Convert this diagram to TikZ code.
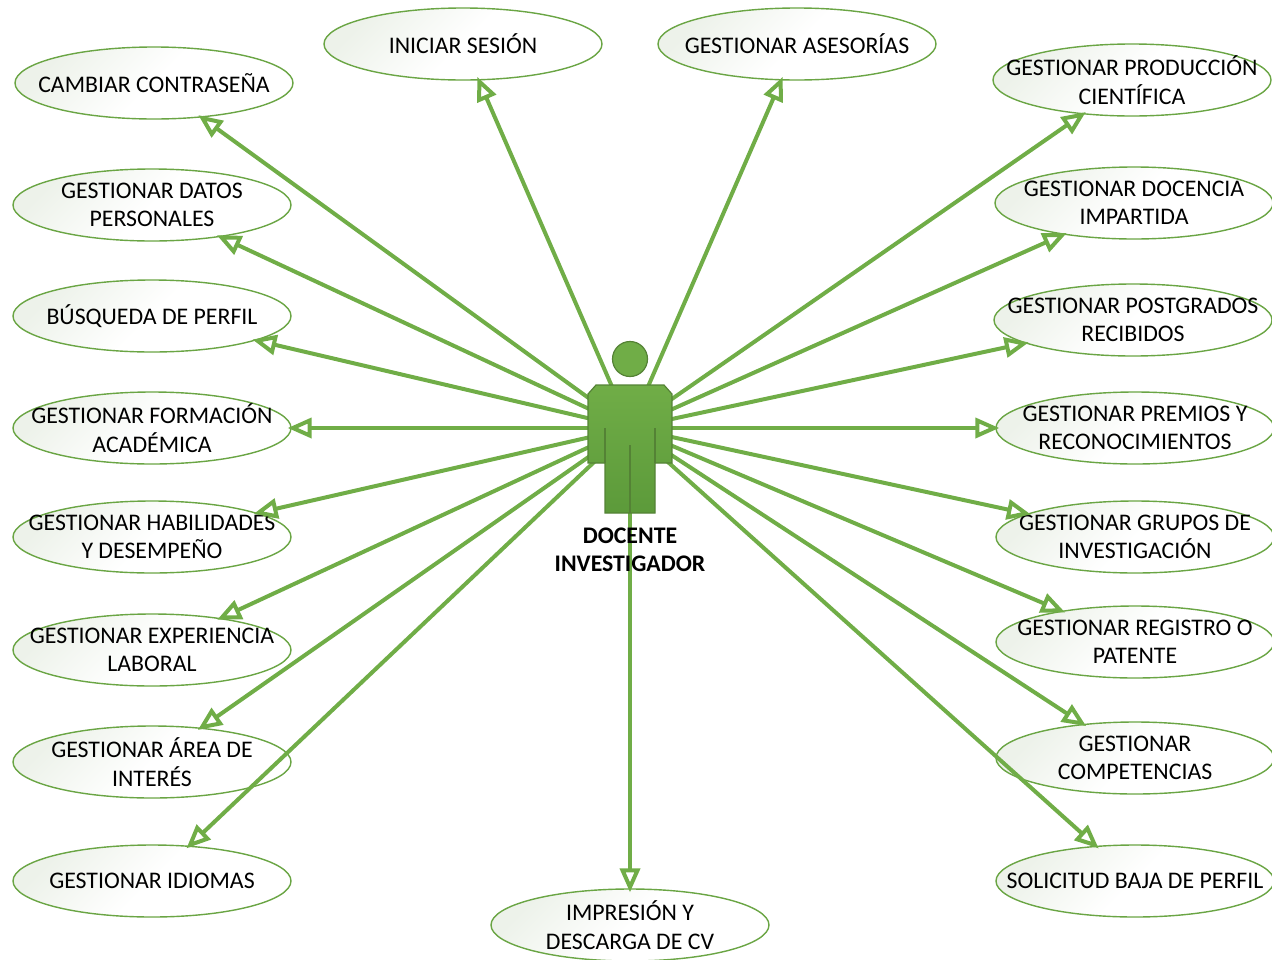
\documentclass[tikz,border=0pt]{standalone}
\usepackage{fontspec}
\usepackage{xcolor}
\usetikzlibrary{shapes.geometric,arrows.meta}
\setmainfont{Carlito}
\definecolor{verde}{HTML}{70AD47}
\definecolor{verdeborde}{HTML}{6AA544}
\definecolor{verdeoscuro}{HTML}{548235}
\definecolor{verdecuerpo}{HTML}{5C9A3A}
\definecolor{verdeclaro}{HTML}{EDF2EA}
\tikzset{
    caso/.style={ellipse,draw=verdeborde,line width=1.4pt,top color=verdeclaro,bottom color=white,middle color=white,shading angle=45,
        minimum width=278pt,minimum height=72pt,inner xsep=-100pt,inner ysep=-20pt,align=center,
        font=\fontsize{23.8}{28.5}\selectfont},
    uso/.style={verde,line width=4pt,shorten >=-4pt},
    actor/.style={draw=verdeoscuro,line width=1.2pt},
    linea/.style={verdeoscuro,line width=1.2pt,-}
}

\begin{document}
\begin{tikzpicture}[x=1pt,y=-1pt,>={Triangle[open,length=24pt,width=20pt]}]
            \useasboundingbox (0,0) rectangle (1272,959);
            \node[caso] (cambiar) at (154,83) {CAMBIAR CONTRASEÑA};
            \node[caso] (iniciar) at (463,44) {INICIAR SESIÓN};
            \node[caso] (asesorias) at (797,44) {GESTIONAR ASESORÍAS};
            \node[caso] (produccion) at (1132,80) {GESTIONAR PRODUCCIÓN\\CIENTÍFICA};
            \node[caso] (datos) at (152,205) {GESTIONAR DATOS\\PERSONALES};
            \node[caso] (docencia) at (1134,203) {GESTIONAR DOCENCIA\\IMPARTIDA};
            \node[caso] (busqueda) at (152,316) {BÚSQUEDA DE PERFIL};
            \node[caso] (postgrados) at (1133,320) {GESTIONAR POSTGRADOS\\RECIBIDOS};
            \node[caso] (formacion) at (152,428) {GESTIONAR FORMACIÓN\\ACADÉMICA};
            \node[caso] (premios) at (1135,428) {GESTIONAR PREMIOS Y\\RECONOCIMIENTOS};
            \node[caso] (habilidades) at (152,537) {GESTIONAR HABILIDADES\\Y DESEMPEÑO};
            \node[caso] (grupos) at (1135,537) {GESTIONAR GRUPOS DE\\INVESTIGACIÓN};
            \node[caso] (experiencia) at (152,650) {GESTIONAR EXPERIENCIA\\LABORAL};
            \node[caso] (registro) at (1135,642) {GESTIONAR REGISTRO O\\PATENTE};
            \node[caso] (area) at (152,762) {GESTIONAR ÁREA DE\\INTERÉS};
            \node[caso] (competencias) at (1135,758) {GESTIONAR\\COMPETENCIAS};
            \node[caso] (idiomas) at (152,881) {GESTIONAR IDIOMAS};
            \node[caso] (baja) at (1135,881) {SOLICITUD BAJA DE PERFIL};
            \node[caso] (impresion) at (630,925) {IMPRESIÓN Y\\DESCARGA DE CV};

            \coordinate (centro) at (630,428);
            \draw[uso,->] (centro) -- (cambiar);
            \draw[uso,->] (centro) -- (iniciar);
            \draw[uso,->] (centro) -- (asesorias);
            \draw[uso,->] (centro) -- (produccion);
            \draw[uso,->] (centro) -- (datos);
            \draw[uso,->] (centro) -- (docencia);
            \draw[uso,->] (centro) -- (busqueda);
            \draw[uso,->] (centro) -- (postgrados);
            \draw[uso,->] (centro) -- (formacion);
            \draw[uso,->] (centro) -- (premios);
            \draw[uso,->] (centro) -- (habilidades);
            \draw[uso,->] (centro) -- (grupos);
            \draw[uso,->] (centro) -- (experiencia);
            \draw[uso,->] (centro) -- (registro);
            \draw[uso,->] (centro) -- (area);
            \draw[uso,->] (centro) -- (competencias);
            \draw[uso,->] (centro) -- (idiomas);
            \draw[uso,->] (centro) -- (baja);
            \draw[uso,->] (centro) -- (impresion);

            \node[actor,circle,fill=verde,minimum size=35pt,inner sep=0pt] (cabeza) at (630,359) {};
            \draw[actor,top color=verde,bottom color=verdecuerpo] (596,385) -- (664,385) -- (672,394) -- (672,463) -- (655,463)
                -- (655,513) -- (605,513) -- (605,463) -- (588,463) -- (588,394) -- cycle;
            \draw[linea] (605,428) -- (605,463);
            \draw[linea] (655,428) -- (655,463);
            \draw[linea] (630,445) -- (630,513);
            \node[align=center,font=\fontsize{23.8}{28.5}\selectfont\bfseries] (docente) at (630,550) {DOCENTE\\INVESTIGADOR};
\end{tikzpicture}
\end{document}
